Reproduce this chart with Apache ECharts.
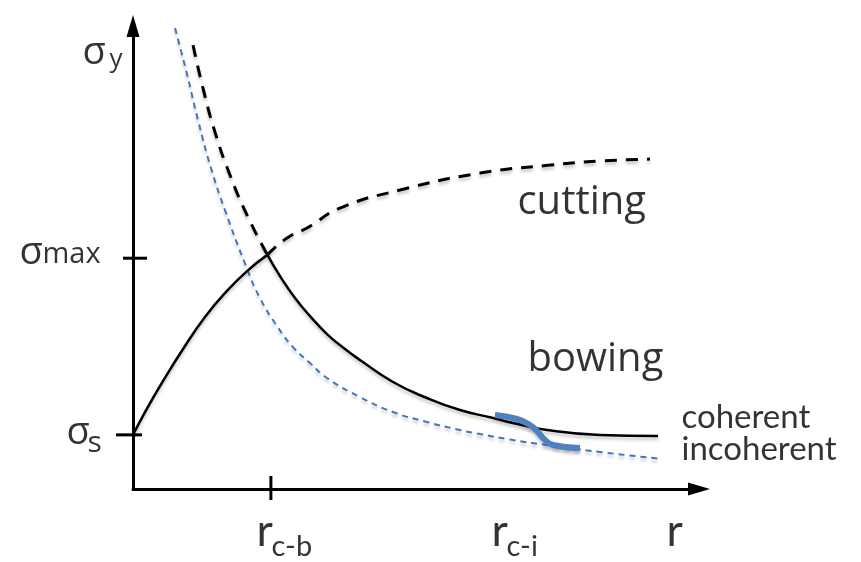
<!DOCTYPE html>
<html>
<head>
<meta charset="utf-8">
<script src="https://cdn.jsdelivr.net/npm/echarts@6/dist/echarts.min.js"></script>
<style>
  html, body { margin: 0; padding: 0; background: #fff; }
  #chart { width: 861px; height: 562px; }
</style>
</head>
<body>
<div id="chart"></div>
<script>
// Axis extents (arbitrary units of particle radius r and yield stress σ)
const X_MAX = 9.81;
const Y_MAX = 9.75;

// Marked positions on the axes
const R_CB = 2.39;       // r_c-b : bowing / cutting crossover
const SIGMA_MAX = 4.86;  // σ_max
const SIGMA_S = 1.14;    // σ_s
const xTickValues = [R_CB];
const yTickValues = [SIGMA_S, SIGMA_MAX];

// Tick label texts: [main glyph, subscript]
const yTickLabels = [['σ', 's'], ['σ', 'max'], ['σ', 'y']];
const xTickLabels = [['r', 'c-b'], ['r', 'c-i'], ['r', '']];
const curveLabels = ['cutting', 'bowing', 'coherent', 'incoherent'];

// Cutting-controlled stress, below r_c-b (solid, rising)
const cuttingSolid = [
  [0, 1.137], [0.208, 1.621], [0.52, 2.274], [0.901, 3.011], [1.248, 3.621],
  [1.594, 4.126], [1.976, 4.589], [2.33, 4.93]
];
// Cutting stress continued beyond r_c-b (dashed, rising)
const cuttingDashed = [
  [2.33, 4.93], [2.669, 5.284], [3.016, 5.495], [3.588, 5.916], [4.627, 6.295],
  [6.014, 6.653], [7.227, 6.821], [8.094, 6.905], [8.96, 6.947]
];
// Bowing (Orowan) stress continued below r_c-b (dashed, falling)
const bowingDashed = [
  [1.04, 9.347], [1.213, 8.442], [1.421, 7.516], [1.681, 6.611],
  [1.993, 5.726], [2.33, 4.93]
];
// Bowing stress beyond r_c-b, coherent particles (solid, falling)
const bowingSolid = [
  [2.33, 4.93], [2.548, 4.484], [2.808, 4.021], [3.068, 3.642], [3.362, 3.263],
  [3.674, 2.947], [3.934, 2.716], [4.506, 2.253], [5.095, 1.916], [5.667, 1.663],
  [6.239, 1.495], [6.586, 1.389], [7.175, 1.242], [8.094, 1.137], [9.099, 1.116]
];
// Bowing stress for incoherent particles (thin blue dashed)
const incoherentCurve = [
  [0.728, 9.705], [0.919, 8.821], [1.127, 7.768], [1.352, 6.758], [1.594, 5.874],
  [1.958, 4.695], [2.201, 4.021], [2.496, 3.432], [2.773, 2.989], [3.068, 2.653],
  [3.362, 2.337], [3.934, 1.937], [4.506, 1.621], [5.095, 1.411], [5.667, 1.242],
  [6.014, 1.158], [6.586, 1.032], [7.175, 0.926], [8.094, 0.779], [9.168, 0.632]
];
// Coherent → incoherent transition around r_c-i (thick blue)
const transitionCurve = [
  [6.274, 1.558], [6.655, 1.474], [6.88, 1.347], [7.019, 1.2],
  [7.106, 1.074], [7.279, 0.926], [7.747, 0.863]
];

const BLACK = '#000';
const BLUE = '#4472c4';
const SANS = '"Open Sans", "DejaVu Sans", sans-serif';
const BODY = 'Lato, "Open Sans", sans-serif';
const shadow = { shadowColor: 'rgba(0,0,0,0.22)', shadowBlur: 3, shadowOffsetY: 3 };

// Text annotations placed in axis units (left edge, vertical middle)
function txt(text, x, y, size, family) {
  return {
    value: [x, y],
    label: { formatter: text, fontSize: size, fontFamily: family, color: '#000' }
  };
}
const annotationData = [
  txt(yTickLabels[2][0], -0.867, 9.166, 38, SANS),
  txt(yTickLabels[2][1], -0.399, 9.027, 26, SANS),
  txt(yTickLabels[1][0], -1.958, 4.956, 38, SANS),
  txt(yTickLabels[1][1], -1.56, 4.92, 29, SANS),
  txt(yTickLabels[0][0], -1.144, 1.166, 38, SANS),
  txt(yTickLabels[0][1], -0.78, 0.943, 30, SANS),
  txt(xTickLabels[0][0], 2.149, -0.895, 45, BODY),
  txt(xTickLabels[0][1], 2.409, -1.217, 29, BODY),
  txt(xTickLabels[1][0], 6.222, -0.895, 45, BODY),
  txt(xTickLabels[1][1], 6.482, -1.217, 29, BODY),
  txt(xTickLabels[2][0], 9.255, -0.895, 45, BODY),
  txt(curveLabels[0], 6.672, 6.02, 40, SANS),
  txt(curveLabels[1], 6.846, 2.709, 40, SANS),
  txt(curveLabels[2], 9.515, 1.5, 33, BODY),
  txt(curveLabels[3], 9.515, 0.83, 33, BODY)
];

function curve(data, color, width, type, extra) {
  return Object.assign({
    type: 'line',
    data: data,
    smooth: 0.5,
    showSymbol: false,
    symbol: 'none',
    silent: true,
    animation: false,
    lineStyle: Object.assign({ color: color, width: width, type: type }, shadow)
  }, extra || {});
}

const axisLineStyle = {
  show: true, onZero: false,
  lineStyle: { color: BLACK, width: 3 },
  symbol: ['none', 'triangle'], symbolSize: [13, 22]
};

const chart = echarts.init(document.getElementById('chart'));
chart.setOption({
  backgroundColor: '#fff',
  animation: false,
  grid: { left: 133, right: 162, top: 26, bottom: 73, containLabel: false },
  xAxis: {
    type: 'value', min: 0, max: X_MAX,
    axisLine: axisLineStyle,
    axisTick: { show: false },
    axisLabel: { show: false },
    splitLine: { show: false }
  },
  yAxis: {
    type: 'value', min: 0, max: Y_MAX,
    axisLine: axisLineStyle,
    axisTick: { show: false },
    axisLabel: { show: false },
    splitLine: { show: false }
  },
  series: [
    curve(incoherentCurve, BLUE, 2, [6, 5]),
    curve(bowingDashed, BLACK, 3, [12, 9]),
    curve(cuttingDashed, BLACK, 3, [12, 9]),
    curve(cuttingSolid, BLACK, 2.5, 'solid'),
    curve(bowingSolid, BLACK, 2.5, 'solid'),
    curve(transitionCurve, '#4f80c0', 6, 'solid'),
    {
      type: 'scatter',
      data: annotationData,
      symbolSize: 1,
      itemStyle: { color: 'rgba(0,0,0,0)' },
      clip: false,
      silent: true,
      animation: false,
      label: {
        show: true,
        position: [0, 0],
        align: 'left',
        verticalAlign: 'middle',
        color: '#000'
      },
      z: 10
    }
  ]
});

// Tick marks crossing the axes at the marked values (pixel lengths before/after the axis)
const ox = chart.convertToPixel({ xAxisIndex: 0 }, 0);
const oy = chart.convertToPixel({ yAxisIndex: 0 }, 0);
const xTickReach = [[13, 11]];          // [inside, outside]
const yTickReach = [[9, 17], [14, 10]];  // [inside, outside] for σ_s, σ_max
const tickStyle = { stroke: BLACK, lineWidth: 3 };
const tickGraphics = [];
xTickValues.forEach(function (v, i) {
  const px = chart.convertToPixel({ xAxisIndex: 0 }, v);
  tickGraphics.push({
    type: 'line', silent: true, z: 5,
    shape: { x1: px, y1: oy - xTickReach[i][0], x2: px, y2: oy + xTickReach[i][1] },
    style: tickStyle
  });
});
yTickValues.forEach(function (v, i) {
  const py = chart.convertToPixel({ yAxisIndex: 0 }, v);
  tickGraphics.push({
    type: 'line', silent: true, z: 5,
    shape: { x1: ox - yTickReach[i][1], y1: py, x2: ox + yTickReach[i][0], y2: py },
    style: tickStyle
  });
});
chart.setOption({ graphic: tickGraphics });
</script>
</body>
</html>
